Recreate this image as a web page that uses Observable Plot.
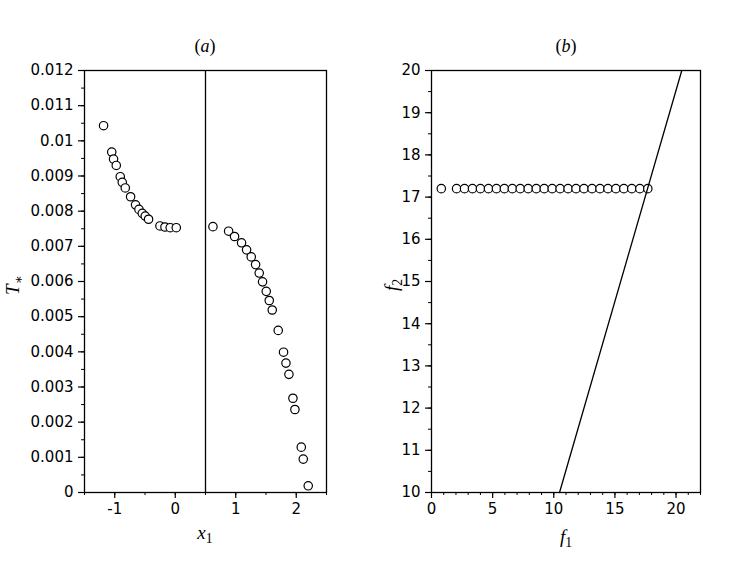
<!DOCTYPE html>
<html>
<head>
<meta charset="utf-8">
<script src="https://cdn.jsdelivr.net/npm/d3@7"></script>
<script src="https://cdn.jsdelivr.net/npm/@observablehq/plot@0.6"></script>
<style>
  html, body { margin: 0; padding: 0; background: #fff; }
  #wrap { position: relative; width: 747px; height: 564px; }
  #wrap svg { position: absolute; top: 0; }
</style>
</head>
<body>
<div id="wrap"></div>
<script>
// Panel (a): T* versus x1
const x1 = [-1.185, -1.05, -1.02, -0.975, -0.909, -0.876, -0.826, -0.738, -0.656, -0.60, -0.545, -0.496, -0.441, -0.253, -0.17, -0.083, 0.017,
            0.623, 0.882, 0.98, 1.096, 1.179, 1.256, 1.328, 1.388, 1.443, 1.504, 1.554, 1.603, 1.702, 1.79, 1.83, 1.879, 1.945, 1.978, 2.083, 2.116, 2.198];
const tStar = [0.01043, 0.00968, 0.00948, 0.00930, 0.00898, 0.00882, 0.00866, 0.00841, 0.00818, 0.00805, 0.00794, 0.00786, 0.00777, 0.00758, 0.00755, 0.00753, 0.00753,
               0.00756, 0.00743, 0.00728, 0.00710, 0.00690, 0.00670, 0.00648, 0.00624, 0.00599, 0.00572, 0.00546, 0.00519, 0.00461, 0.00399, 0.00368, 0.00336, 0.00268, 0.00236, 0.00129, 0.00095, 0.00019];
const separatorX = [0.5];
const xTicksA = [-1, 0, 1, 2];
const yTicksA = [0, 0.001, 0.002, 0.003, 0.004, 0.005, 0.006, 0.007, 0.008, 0.009, 0.01, 0.011, 0.012];

// Panel (b): f2 versus f1
const f1 = [0.8, 2.05, 2.70, 3.35, 4.00, 4.66, 5.31, 5.96, 6.61, 7.26, 7.91, 8.57, 9.22, 9.87, 10.52, 11.17, 11.82, 12.47, 13.13, 13.78, 14.43, 15.08, 15.73, 16.38, 17.04, 17.69];
const f2 = [17.2, 17.2, 17.2, 17.2, 17.2, 17.2, 17.2, 17.2, 17.2, 17.2, 17.2, 17.2, 17.2, 17.2, 17.2, 17.2, 17.2, 17.2, 17.2, 17.2, 17.2, 17.2, 17.2, 17.2, 17.2, 17.2];
const lineF1 = [10.47, 20.47];
const lineF2 = [10, 20];
const xTicksB = [0, 5, 10, 15, 20];
const yTicksB = [10, 11, 12, 13, 14, 15, 16, 17, 18, 19, 20];

const style = {fontFamily: "'DejaVu Sans'", fontSize: "15px", color: "black", background: "white"};
const serif = "'Liberation Serif', 'DejaVu Serif', serif";

function panel({width, marginLeft, marginRight, xDomain, yDomain, xTicks, yTicks, xMinor, yMinor, marks}) {
  return Plot.plot({
    width, height: 564, marginLeft, marginRight, marginTop: 70, marginBottom: 72,
    style,
    x: {domain: xDomain},
    y: {domain: yDomain},
    marks: [
      Plot.axisY(yMinor, {tickSize: 3, tickFormat: () => "", label: null, strokeWidth: 1}),
      Plot.axisY(yTicks, {tickSize: 6, tickPadding: 5, tickFormat: d => String(d), label: null, strokeWidth: 1.2}),
      Plot.axisX(xMinor, {tickSize: 3, tickFormat: () => "", label: null, strokeWidth: 1}),
      Plot.axisX(xTicks, {tickSize: 6, tickPadding: 5, tickFormat: d => String(d), label: null, strokeWidth: 1.2}),
      ...marks,
      Plot.frame({stroke: "black", strokeWidth: 1.3})
    ]
  });
}

const svgA = panel({
  width: 373, marginLeft: 84, marginRight: 47,
  xDomain: [-1.5, 2.5], yDomain: [0, 0.012],
  xTicks: xTicksA, yTicks: yTicksA,
  xMinor: d3.range(-1.5, 2.51, 0.5), yMinor: d3.range(0, 0.01201, 0.0005),
  marks: [
    Plot.ruleX(separatorX, {stroke: "black", strokeWidth: 1.3}),
    Plot.dot(x1, {x: d => d, y: (d, i) => tStar[i], r: 4.2, stroke: "black", fill: "white", strokeWidth: 1.2})
  ]
});

const svgB = panel({
  width: 374, marginLeft: 58, marginRight: 47,
  xDomain: [0, 22], yDomain: [10, 20],
  xTicks: xTicksB, yTicks: yTicksB,
  xMinor: d3.range(0, 22.01, 1), yMinor: d3.range(10, 20.01, 0.5),
  marks: [
    Plot.dot(f1, {x: d => d, y: (d, i) => f2[i], r: 4.2, stroke: "black", fill: "white", strokeWidth: 1.2}),
    Plot.line(lineF1, {x: d => d, y: (d, i) => lineF2[i], stroke: "black", strokeWidth: 1.3})
  ]
});

svgA.style.left = "0px";
svgB.style.left = "373px";
const wrap = document.getElementById("wrap");
wrap.appendChild(svgA);
wrap.appendChild(svgB);

function addText(svg, x, y, rotate, parts, size) {
  const t = d3.select(svg).append("text")
    .attr("transform", `translate(${x},${y})` + (rotate ? ` rotate(${rotate})` : ""))
    .attr("text-anchor", "middle")
    .attr("font-family", serif)
    .attr("font-size", size)
    .attr("fill", "black");
  for (const p of parts) {
    const s = t.append("tspan").text(p.text).attr("font-style", p.italic ? "italic" : "normal");
    if (p.sub) s.attr("baseline-shift", "-25%").attr("font-size", size * 0.72);
  }
}

// titles
addText(svgA, 205, 52, 0, [{text: "("}, {text: "a", italic: true}, {text: ")"}], 18);
addText(svgB, 566 - 373, 52, 0, [{text: "("}, {text: "b", italic: true}, {text: ")"}], 18);
// axis labels
addText(svgA, 205, 539, 0, [{text: "x", italic: true}, {text: "1", sub: true}], 19);
addText(svgA, 19, 285, -90, [{text: "T", italic: true}, {text: "∗", sub: true}], 19);
addText(svgB, 566 - 373, 543, 0, [{text: "f", italic: true}, {text: "1", sub: true}], 19);
addText(svgB, 398 - 373, 285, -90, [{text: "f", italic: true}, {text: "2", sub: true}], 19);
</script>
</body>
</html>
